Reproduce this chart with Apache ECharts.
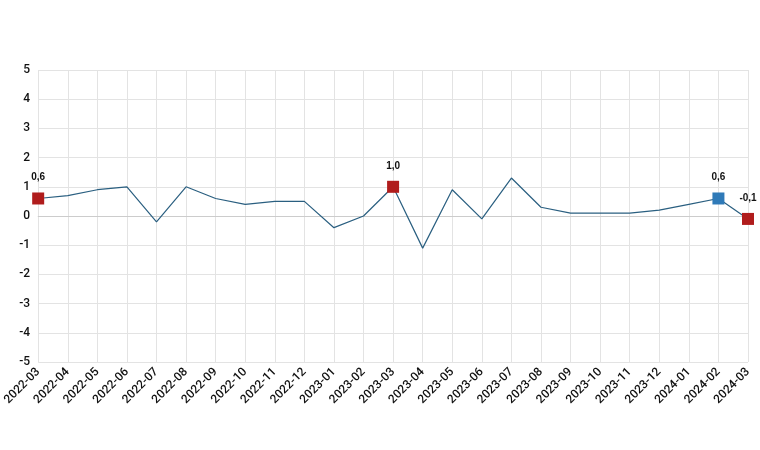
<!DOCTYPE html><html><head><meta charset="utf-8"><script src="https://cdn.jsdelivr.net/npm/echarts@6/dist/echarts.min.js"></script></head><body style="margin:0"><div id="c" style="width:760px;height:450px"></div><script>
const categories=['2022-03','2022-04','2022-05','2022-06','2022-07','2022-08','2022-09','2022-10','2022-11','2022-12','2023-01','2023-02','2023-03','2023-04','2023-05','2023-06','2023-07','2023-08','2023-09','2023-10','2023-11','2023-12','2024-01','2024-02','2024-03'];
const values=[0.6,0.7,0.9,1.0,-0.2,1.0,0.6,0.4,0.5,0.5,-0.4,0.0,1.0,-1.1,0.9,-0.1,1.3,0.3,0.1,0.1,0.1,0.2,0.4,0.6,-0.1];
const markers=[[0,'#b01c1c'],[12,'#b01c1c'],[23,'#2f7ab8'],[24,'#b01c1c']];
const yTicks={min:-5,max:5,interval:1};
const c=echarts.init(document.getElementById('c'));
const m=new Map(markers);
c.setOption({animation:false,grid:{left:35,right:12,top:70,bottom:88},
xAxis:{type:'category',boundaryGap:false,data:categories,axisTick:{show:false},axisLine:{lineStyle:{color:'#ccc'}},splitLine:{show:true,lineStyle:{color:'#e3e3e3'}},axisLabel:{rotate:45,color:'#111',fontSize:12,fontWeight:500,fontFamily:'Roboto',interval:0}},
yAxis:{type:'value',...yTicks,axisLine:{show:false},splitLine:{lineStyle:{color:'#e3e3e3'}},axisLabel:{color:'#111',fontSize:12,fontWeight:500,fontFamily:'Roboto'}},
series:[{type:'line',data:values.map((v,i)=>m.has(i)?{value:v,symbol:'rect',symbolSize:12,itemStyle:{color:m.get(i)},label:{show:true,position:'top',distance:10,formatter:p=>p.value.toFixed(1).replace('.',','),fontSize:10,fontWeight:'bold',color:'#111'}}:{value:v,symbol:'none'}),lineStyle:{color:'#2a5f80',width:1.2},itemStyle:{color:'#2a5f80'}}]});
</script></body></html>
